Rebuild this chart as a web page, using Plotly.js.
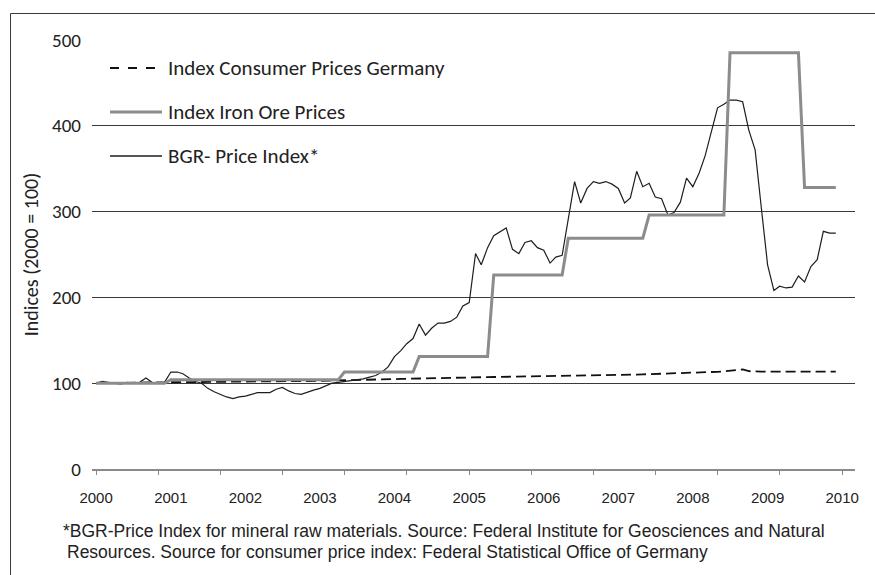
<!DOCTYPE html>
<html>
<head>
<meta charset="utf-8">
<script src="https://cdn.plot.ly/plotly-3.0.1.min.js"></script>
<style>html,body{margin:0;padding:0;background:#fff;}#chart{width:875px;height:575px;}</style>
</head>
<body>
<div id="chart"></div>
<script>
// ---------------- DATA ----------------
const firstYear = 2000;
const yearLabels = ["2000","2001","2002","2003","2004","2005","2006","2007","2008","2009","2010"];
const yearTickDates = ["2000-01-01","2001-01-01","2002-01-01","2003-01-01","2004-01-01","2005-01-01","2006-01-01","2007-01-01","2008-01-01","2009-01-01","2010-01-01"];
const axisTickDates = ["2000-01-01","2000-11-01","2001-09-01","2002-07-01","2003-05-01","2004-03-01","2005-01-01","2005-11-01","2006-09-01","2007-07-01","2008-05-01","2009-03-01","2010-01-01"];
const yTicks = [0, 100, 200, 300, 400, 500];

const seriesNames = ["Index Consumer Prices Germany", "Index Iron Ore Prices", "BGR- Price Index*"];

// monthly values, Jan 2000 .. Dec 2009 (one row per year)
const cpiGermany = [
  100, 100, 100.2, 100.3, 100.4, 100.5, 100.6, 100.7, 100.8, 100.9, 101, 101,
  101.2, 101.3, 101.4, 101.5, 101.6, 101.7, 101.8, 101.9, 102, 102, 102, 102,
  102, 102.1, 102.2, 102.2, 102.3, 102.3, 102.4, 102.4, 102.5, 102.5, 102.5, 102.6,
  102.7, 102.8, 103, 103.1, 103.3, 103.5, 103.6, 103.8, 104, 104.2, 104.4, 104.5,
  104.8, 105, 105.2, 105.4, 105.6, 105.8, 106, 106.1, 106.2, 106.3, 106.4, 106.5,
  106.6, 106.8, 107, 107.1, 107.2, 107.3, 107.4, 107.5, 107.6, 107.7, 107.8, 108,
  108, 108.2, 108.3, 108.4, 108.6, 108.7, 108.8, 108.9, 109, 109.1, 109.2, 109.4,
  109.5, 109.7, 109.9, 110.1, 110.3, 110.5, 110.7, 110.8, 111, 111.2, 111.4, 111.6,
  111.8, 112.1, 112.5, 112.9, 113.3, 113.8, 114.5, 115.5, 116, 114, 113.5, 113.5,
  113.4, 113.5, 113.5, 113.6, 113.5, 113.5, 113.6, 113.6, 113.5, 113.5, 113.6, 113.6
];
const ironOre = [
  100, 100, 100, 100, 100, 100, 100, 100, 100, 100, 100, 100,
  104, 104, 104, 104, 104, 104, 104, 104, 104, 104, 104, 104,
  104, 104, 104, 104, 104, 104, 104, 104, 104, 104, 104, 104,
  104, 104, 104, 104, 113, 113, 113, 113, 113, 113, 113, 113,
  113, 113, 113, 113, 131, 131, 131, 131, 131, 131, 131, 131,
  131, 131, 131, 131, 226, 226, 226, 226, 226, 226, 226, 226,
  226, 226, 226, 226, 269, 269, 269, 269, 269, 269, 269, 269,
  269, 269, 269, 269, 269, 296, 296, 296, 296, 296, 296, 296,
  296, 296, 296, 296, 296, 296, 485, 485, 485, 485, 485, 485,
  485, 485, 485, 485, 485, 485, 328, 328, 328, 328, 328, 328
];
const bgrIndex = [
  100, 102, 101, 100, 99, 101, 100, 101, 106, 101, 100, 101,
  113, 113, 111, 106, 102, 100, 94, 90, 87, 84, 82, 84,
  85, 87, 89, 89, 89, 93, 95, 91, 88, 87, 90, 92,
  94, 97, 100, 101, 102, 103, 104, 105, 107, 109, 113, 119,
  131, 138, 146, 152, 169, 156, 164, 170, 170, 172, 177, 190,
  194, 251, 238, 258, 272, 277, 281, 256, 251, 264, 266, 258,
  255, 240, 247, 249, 290, 335, 310, 327, 335, 333, 335, 332,
  327, 310, 316, 347, 329, 333, 317, 315, 296, 299, 311, 339,
  329, 345, 365, 395, 421, 425, 430, 430, 428, 395, 372, 305,
  238, 208, 213, 211, 212, 225, 218, 236, 244, 277, 275, 275
];
const footnoteLines = [
  "*BGR-Price Index for mineral raw materials. Source: Federal Institute for Geosciences and Natural",
  "Resources. Source for consumer price index: Federal Statistical Office of Germany"
];
const yTitle = "Indices (2000 = 100)";

// month dates built from the index of each value
const months = bgrIndex.map((_, i) => {
  const y = firstYear + Math.floor(i / 12);
  const m = (i % 12) + 1;
  return y + "-" + (m < 10 ? "0" + m : m) + "-01";
});

// ---------------- LAYOUT HELPERS ----------------
const W = 875, H = 575;
const M = {l: 92, r: 20, t: 40, b: 106};
const PW = W - M.l - M.r, PH = H - M.t - M.b;
const px = x => (x - M.l) / PW;          // pixel -> paper x
const py = y => (H - M.b - y) / PH;      // pixel -> paper y

const calibriLike = "Carlito, Lato, 'Open Sans', sans-serif";
const arialLike = "Arial, 'Liberation Sans', sans-serif";
const xRange = ["1999-12-12", "2010-03-05"];

const traces = [
  {x: months, y: ironOre, name: seriesNames[1], type: "scatter", mode: "lines", xaxis: "x2",
   line: {color: "#8c8c8c", width: 3}, showlegend: false},
  {x: months, y: cpiGermany, name: seriesNames[0], type: "scatter", mode: "lines",
   line: {color: "#111111", width: 1.8, dash: "10px,5px"}, showlegend: false},
  {x: months, y: bgrIndex, name: seriesNames[2], type: "scatter", mode: "lines",
   line: {color: "#1e1e1e", width: 1.2}, showlegend: false}
];

// legend (drawn manually to match sample-line length)
const legendRows = [
  {name: seriesNames[0], y: 68, line: {color: "#111111", width: 1.8, dash: "dash"}},
  {name: seriesNames[1], y: 112, line: {color: "#8c8c8c", width: 3}},
  {name: seriesNames[2], y: 156, line: {color: "#1e1e1e", width: 1.3}}
];

const shapes = [
  {type: "rect", xref: "paper", yref: "paper", x0: px(92), x1: px(448), y0: py(176), y1: py(48),
   fillcolor: "#ffffff", line: {width: 0}, layer: "between"},
  {type: "line", xref: "paper", yref: "paper", x0: px(10.5), x1: px(10.5), y0: py(13.5), y1: py(576),
   line: {color: "#3a3a3a", width: 1}},
  {type: "line", xref: "paper", yref: "paper", x0: px(10.5), x1: px(876), y0: py(13.5), y1: py(13.5),
   line: {color: "#3a3a3a", width: 1}}
];
legendRows.forEach(r => shapes.push({
  type: "line", xref: "paper", yref: "paper", x0: px(110), x1: px(162), y0: py(r.y), y1: py(r.y),
  line: r.line
}));

const annotations = legendRows.map(r => ({
  xref: "paper", yref: "paper", x: px(166), y: py(r.y), xanchor: "left", yanchor: "middle",
  text: r.name, showarrow: false, font: {family: calibriLike, size: 21, color: "#222"}
}));
annotations.push(
  {xref: "paper", yref: "paper", x: px(61), y: py(531), xanchor: "left", yanchor: "middle",
   text: footnoteLines[0], showarrow: false, font: {family: arialLike, size: 17.5, color: "#222"}},
  {xref: "paper", yref: "paper", x: px(65), y: py(551.5), xanchor: "left", yanchor: "middle",
   text: footnoteLines[1], showarrow: false, font: {family: arialLike, size: 17.5, color: "#222"}}
);

const layout = {
  width: W, height: H,
  margin: M,
  paper_bgcolor: "#ffffff", plot_bgcolor: "#ffffff",
  showlegend: false,
  xaxis: {
    type: "date", range: xRange,
    tickmode: "array", tickvals: yearTickDates, ticktext: yearLabels,
    ticks: "", showgrid: false, zeroline: false,
    showline: true, linecolor: "#8a8a8a", linewidth: 2,
    ticklabelstandoff: 14,
    tickfont: {family: arialLike, size: 15, color: "#222"}
  },
  xaxis2: {
    type: "date", overlaying: "x", anchor: "y", side: "bottom", range: xRange,
    tickmode: "array", tickvals: axisTickDates, showticklabels: false,
    ticks: "outside", ticklen: 5, tickwidth: 1, tickcolor: "#8a8a8a",
    showgrid: false, zeroline: false, showline: false
  },
  yaxis: {
    range: [0, 500], tickmode: "array", tickvals: yTicks,
    showgrid: true, gridcolor: "#3a3a3a", gridwidth: 1,
    zeroline: false, showline: false, ticks: "",
    ticklabelstandoff: 10,
    tickfont: {family: calibriLike, size: 19, color: "#222"},
    title: {text: yTitle, font: {family: calibriLike, size: 20, color: "#222"}, standoff: 8}
  },
  shapes: shapes,
  annotations: annotations
};

Plotly.newPlot("chart", traces, layout, {displayModeBar: false, staticPlot: true});
</script>
</body>
</html>
